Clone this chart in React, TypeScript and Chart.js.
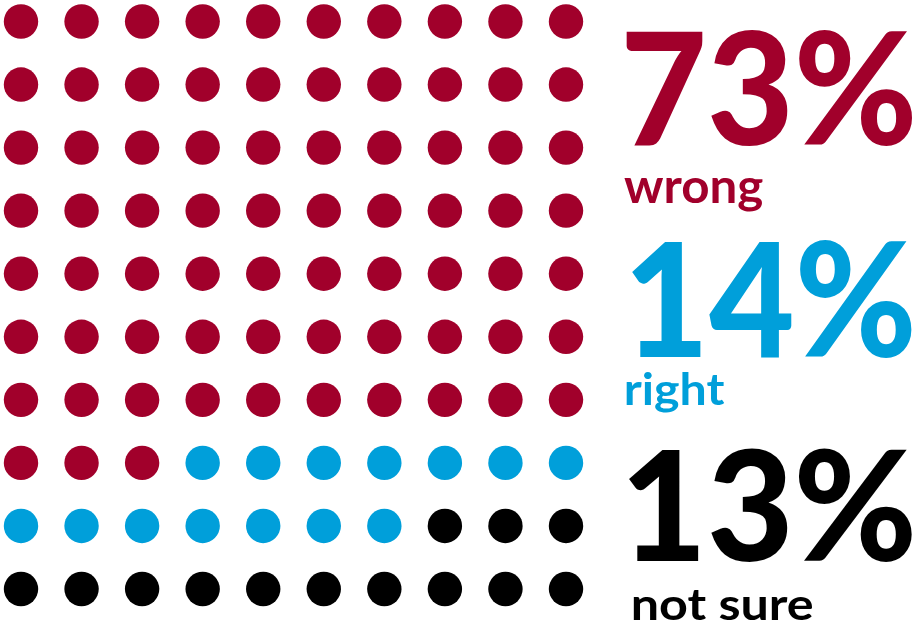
import React, { useEffect, useRef } from "react";
import { Chart, registerables } from "chart.js";

Chart.register(...registerables);

// ---- data ----
const CATEGORIES = ["wrong", "right", "not sure"];
const PERCENTS = [73, 14, 13];
const COLORS = ["#A1002B", "#009FDA", "#000000"];
const GRID_COLS = 10;
const GRID_ROWS = 10;

// ---- layout of the side annotations (ink boxes in px) ----
const NUMBER_BOXES = [
  { left: 626, right: 913, top: 32, base: 145 },
  { left: 632, right: 912, top: 243, base: 357 },
  { left: 629, right: 912, top: 451, base: 561 },
];
const WORD_BOXES = [
  { left: 624, right: 763, top: 178, base: 203 },
  { left: 626, right: 725, top: 382, base: 405 },
  { left: 633, right: 813, top: 597, base: 620 },
];
const FONT_FAMILY = "Lato, 'Open Sans', sans-serif";

type Box = { left: number; right: number; top: number; base: number };

function drawFitted(ctx: CanvasRenderingContext2D, text: string, box: Box, refChar: string, color: string, weight: string) {
  ctx.save();
  ctx.textAlign = "left";
  ctx.textBaseline = "alphabetic";
  ctx.font = `${weight} 100px ${FONT_FAMILY}`;
  const ref = ctx.measureText(refChar);
  const refH = ref.actualBoundingBoxAscent || 70;
  const size = (100 * (box.base - box.top)) / refH;
  ctx.font = `${weight} ${size}px ${FONT_FAMILY}`;
  const m = ctx.measureText(text);
  const inkW = m.actualBoundingBoxLeft + m.actualBoundingBoxRight;
  const sx = inkW > 0 ? (box.right - box.left) / inkW : 1;
  ctx.translate(box.left, box.base);
  ctx.scale(sx, 1);
  ctx.fillStyle = color;
  ctx.fillText(text, m.actualBoundingBoxLeft, 0);
  ctx.restore();
}

const labelPlugin = {
  id: "waffleLabels",
  afterDraw(chart: any) {
    const ctx = chart.ctx as CanvasRenderingContext2D;
    PERCENTS.forEach((p, i) => {
      const num = `${p}%`;
      drawFitted(ctx, num, NUMBER_BOXES[i], num.charAt(0), COLORS[i], "900");
      drawFitted(ctx, CATEGORIES[i], WORD_BOXES[i], "x", COLORS[i], "bold");
    });
  },
};

function buildDatasets() {
  let idx = 0;
  return CATEGORIES.map((cat, ci) => {
    const pts: { x: number; y: number }[] = [];
    for (let k = 0; k < PERCENTS[ci]; k++) {
      const row = Math.floor(idx / GRID_COLS);
      const col = idx % GRID_COLS;
      pts.push({ x: col, y: row });
      idx++;
    }
    return {
      label: cat,
      data: pts,
      backgroundColor: COLORS[ci],
      borderWidth: 0,
      pointRadius: 17.2,
      pointHoverRadius: 17.2,
      clip: false as any,
    };
  });
}

export default function App() {
  const ref = useRef<HTMLCanvasElement | null>(null);
  useEffect(() => {
    if (!ref.current) return;
    const chart = new Chart(ref.current, {
      type: "scatter",
      data: { datasets: buildDatasets() as any },
      options: {
        animation: false,
        responsive: false,
        devicePixelRatio: 1,
        layout: { padding: { left: 21, right: 358, top: 21.5, bottom: 37 } },
        plugins: { legend: { display: false }, tooltip: { enabled: false }, title: { display: false } },
        scales: {
          x: { type: "linear", min: 0, max: GRID_COLS - 1, display: false },
          y: { type: "linear", min: 0, max: GRID_ROWS - 1, reverse: true, display: false },
        },
      },
      plugins: [labelPlugin],
    });
    return () => chart.destroy();
  }, []);
  return (
    <div style={{ position: "absolute", left: 0, top: 0, width: 924, height: 626, background: "#fff" }}>
      <canvas ref={ref} width={924} height={626} style={{ display: "block" }} />
    </div>
  );
}
